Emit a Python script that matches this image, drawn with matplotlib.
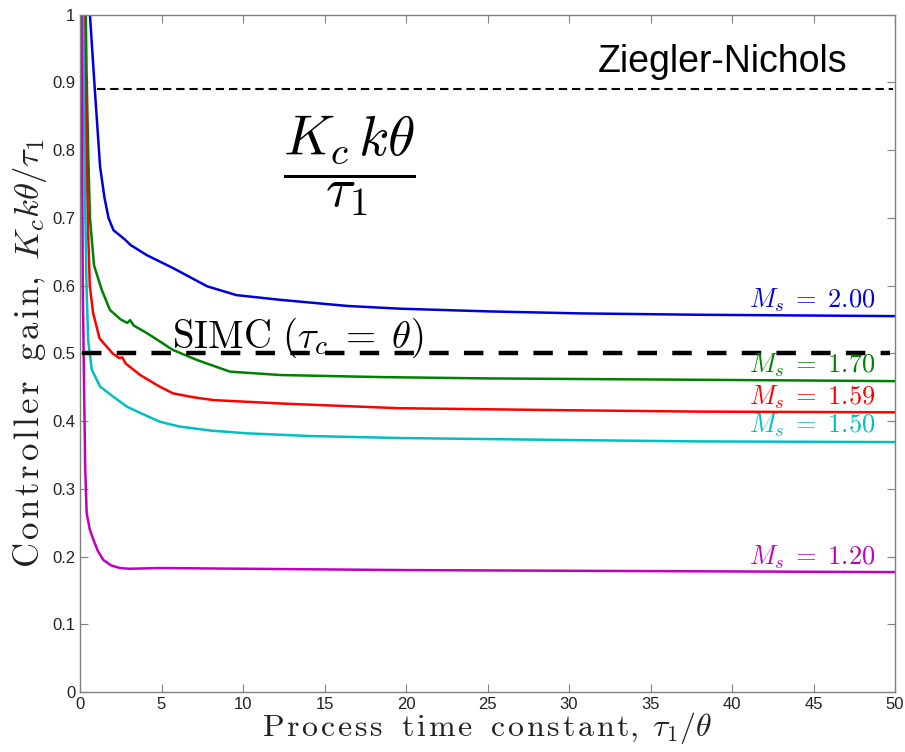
import numpy as np
import matplotlib
matplotlib.use("Agg")
import matplotlib.pyplot as plt

plt.rcParams["mathtext.fontset"] = "cm"
plt.rcParams["font.family"] = ["Liberation Sans", "DejaVu Sans"]
plt.rcParams["lines.scale_dashes"] = False

# tuned controller gain vs. process time constant, one curve per Ms
x_ms200 = [0.45, 0.61, 0.88, 1.23, 1.5, 1.75, 2.05, 2.76, 3.1, 4.1, 5.7, 7.8, 9.6,
           12.3, 16.4, 19.6, 25, 30.7, 38, 44, 50]
y_ms200 = [1.10, 1.00, 0.90, 0.776, 0.73, 0.70, 0.682, 0.668, 0.660, 0.645, 0.626,
           0.599, 0.586, 0.579, 0.570, 0.566, 0.562, 0.559, 0.557, 0.556, 0.555]

x_ms170 = [0.3, 0.4, 0.5, 0.61, 0.86, 1.33, 1.84, 2.5, 2.9, 3.07, 3.3, 4.1, 5.0, 5.7,
           7.2, 9.2, 12.3, 18.4, 25, 38, 50]
y_ms170 = [1.10, 0.92, 0.80, 0.70, 0.63, 0.594, 0.564, 0.550, 0.545, 0.549, 0.541,
           0.530, 0.516, 0.505, 0.490, 0.473, 0.468, 0.465, 0.463, 0.461, 0.459]

x_ms159 = [0.2, 0.35, 0.5, 0.6, 0.8, 1.2, 2.0, 2.4, 2.6, 2.8, 3.7, 4.8, 5.7, 7.0, 8.2,
           12.3, 19.6, 30, 38, 50]
y_ms159 = [1.10, 0.85, 0.68, 0.60, 0.56, 0.522, 0.500, 0.493, 0.494, 0.485, 0.468,
           0.452, 0.441, 0.435, 0.431, 0.426, 0.419, 0.416, 0.414, 0.413]

x_ms150 = [0.15, 0.25, 0.33, 0.4, 0.5, 0.72, 1.23, 2.04, 2.9, 3.7, 4.9, 6.1, 8.0,
           10.2, 14, 19.6, 30, 38, 50]
y_ms150 = [1.10, 0.85, 0.70, 0.60, 0.52, 0.476, 0.451, 0.436, 0.421, 0.412, 0.399,
           0.392, 0.386, 0.382, 0.378, 0.375, 0.372, 0.370, 0.369]

x_ms120 = [0.05, 0.1, 0.17, 0.25, 0.32, 0.41, 0.6, 0.82, 1.1, 1.43, 1.9, 2.45, 3.0,
           5.0, 10, 20, 30, 40, 50]
y_ms120 = [1.10, 0.95, 0.60, 0.45, 0.33, 0.264, 0.240, 0.225, 0.208, 0.195, 0.187,
           0.183, 0.182, 0.183, 0.182, 0.180, 0.179, 0.178, 0.177]

ms_labels = ["2.00", "1.70", "1.59", "1.50", "1.20"]
ms_label_y = [0.567, 0.471, 0.424, 0.383, 0.188]

zn_gain = 0.89
simc_gain = 0.5

curves = [(x_ms200, y_ms200, "#0000dd"),
          (x_ms170, y_ms170, "#007f00"),
          (x_ms159, y_ms159, "#ff0000"),
          (x_ms150, y_ms150, "#00bfbf"),
          (x_ms120, y_ms120, "#bf00bf")]


def spaced(words, gap=0.1):
    # loose letter spacing for the roman part of the axis labels
    sep = r"\hspace{%g}" % gap
    out = []
    for w in words.split(" "):
        out.append(sep.join(r"\mathrm{%s}" % ch for ch in w))
    return r"\ \ ".join(out)


fig = plt.figure(figsize=(9.05, 7.52), dpi=100)
ax = fig.add_axes([0.0884, 0.0798, 0.9006, 0.9006])

for xs, ys, c in curves:
    ax.plot(xs, ys, color=c, lw=1.8)

for (xs, ys, c), lab, ly in zip(curves, ms_labels, ms_label_y):
    ax.text(48.8, ly, r"$M_s\;=\;%s$" % lab, color=c, fontsize=19,
            ha="right", va="baseline")

ax.plot([1.04, 49.9], [zn_gain, zn_gain], color="black", lw=1.5,
        dashes=(6, 3.5))
ax.plot([0.1, 49.7], [simc_gain, simc_gain], color="black", lw=3.2,
        dashes=(14, 11))

ax.text(47.1, 0.93, "Ziegler-Nichols", fontsize=27, ha="right", va="center")
ax.text(5.64, 0.508, r"$\mathrm{SIMC}\ (\tau_c\;=\;\theta)$", fontsize=28,
        ha="left", va="baseline")
ax.text(16.5, 0.777, r"$\dfrac{K_c\,k\theta}{\tau_1}$", fontsize=40,
        ha="center", va="center")

ax.set_xlim(0, 50)
ax.set_ylim(0, 1)
ax.set_xticks(np.arange(0, 51, 5))
ax.set_yticks(np.arange(0, 1.01, 0.1))
ax.set_yticklabels(["0"] + ["%.1f" % v for v in np.arange(0.1, 0.95, 0.1)] + ["1"])
ax.tick_params(direction="in", top=True, right=True, length=6, width=0.8,
               color="#808080", labelsize=12, labelcolor="#222222")
for s in ax.spines.values():
    s.set_color("#808080")
    s.set_linewidth(1.0)

ax.set_xlabel(r"$%s,\ \tau_1/\theta$" % spaced("Process time constant"),
              fontsize=23, color="#222222", labelpad=-1)
ax.set_ylabel(r"$%s,\ K_c k\theta/\tau_1$" % spaced("Controller gain", 0.12),
              fontsize=25, color="#222222", labelpad=2)

fig.savefig("out.png", dpi=100)
